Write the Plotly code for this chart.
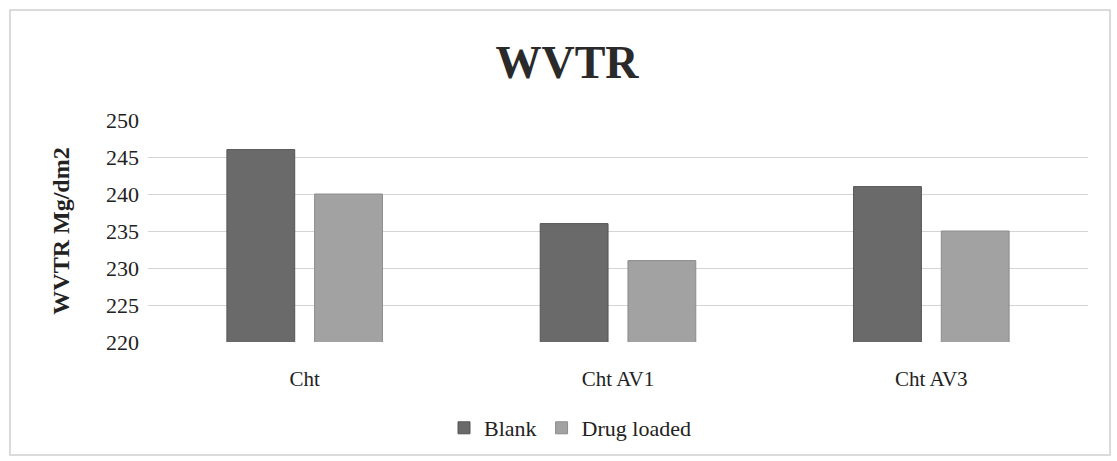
import plotly.graph_objects as go

categories = ["Cht", "Cht AV1", "Cht AV3"]
blank = [246, 236, 241]
drug_loaded = [240, 231, 235]
y_ticks = [220, 225, 230, 235, 240, 245, 250]

W, H = 1117, 461
L, R, T, B = 148, 29, 120, 119
pw, ph = W - L - R, H - T - B

def px_x(p):
    return (p - L) / pw

def px_y(p):
    return (H - B - p) / ph

font_family = "Liberation Serif, Times New Roman, serif"

fig = go.Figure()
fig.add_trace(go.Bar(name="Blank", x=categories, y=blank,
                     marker=dict(color="#6a6a6a", line=dict(color="#555555", width=1))))
fig.add_trace(go.Bar(name="Drug loaded", x=categories, y=drug_loaded,
                     marker=dict(color="#a2a2a2", line=dict(color="#8c8c8c", width=1))))

fig.update_layout(
    width=W, height=H,
    margin=dict(l=L, r=R, t=T, b=B),
    paper_bgcolor="white", plot_bgcolor="white",
    barmode="group", bargap=0.44, bargroupgap=0.227,
    font=dict(family=font_family, color="#222222", size=21),
    title=dict(text="<b>WVTR</b>", x=px_x(567), xref="paper", xanchor="center",
               y=1 - 62 / H, yanchor="middle", font=dict(size=46, color="#2a2a2a")),
    xaxis=dict(showgrid=False, showline=False, ticks="", tickfont=dict(size=21),
               ticklabelstandoff=22),
    yaxis=dict(range=[220, 250], tickvals=y_ticks, showgrid=True, gridcolor="#d4d4d4",
               gridwidth=1, zeroline=False, showline=False, ticks="",
               tickfont=dict(size=22), ticklabelstandoff=8,
               title=dict(text="<b>WVTR Mg/dm2</b>", font=dict(size=24), standoff=29)),
    legend=dict(orientation="h", x=px_x(570), xanchor="center", y=px_y(428), yanchor="middle",
                font=dict(size=22), itemwidth=30, traceorder="normal"),
    shapes=[dict(type="rect", xref="paper", yref="paper",
                 x0=px_x(10), x1=px_x(1110), y0=px_y(455), y1=px_y(10),
                 line=dict(color="#cfcfcf", width=1.5), fillcolor="rgba(0,0,0,0)", layer="below")],
)

fig.write_html("out.html")
